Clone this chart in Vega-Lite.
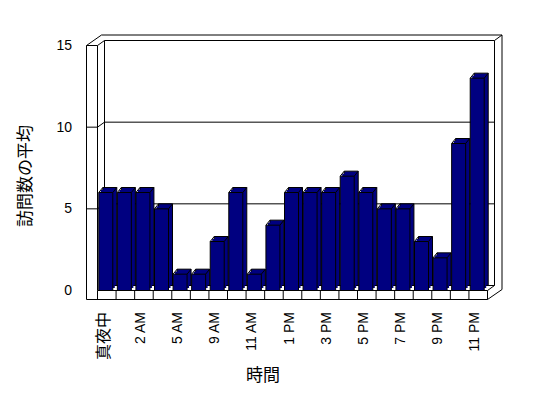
{
  "$schema": "https://vega.github.io/schema/vega-lite/v6.json",
  "width": 390,
  "height": 245,
  "autosize": {"type": "none"},
  "padding": {"left": 97.5, "top": 45.5, "right": 60.5, "bottom": 107.5},
  "background": "white",
  "config": {
    "view": {"stroke": null},
    "font": "Liberation Sans, Noto Sans CJK JP",
    "rule": {"color": "black", "strokeWidth": 1}
  },
  "datasets": {
    "visits": [
      {"hour": "真夜中", "visits": 6},
      {"hour": "1 AM", "visits": 6},
      {"hour": "2 AM", "visits": 6},
      {"hour": "3 AM", "visits": 5},
      {"hour": "5 AM", "visits": 1},
      {"hour": "7 AM", "visits": 1},
      {"hour": "9 AM", "visits": 3},
      {"hour": "10 AM", "visits": 6},
      {"hour": "11 AM", "visits": 1},
      {"hour": "正午", "visits": 4},
      {"hour": "1 PM", "visits": 6},
      {"hour": "2 PM", "visits": 6},
      {"hour": "3 PM", "visits": 6},
      {"hour": "4 PM", "visits": 7},
      {"hour": "5 PM", "visits": 6},
      {"hour": "6 PM", "visits": 5},
      {"hour": "7 PM", "visits": 5},
      {"hour": "8 PM", "visits": 3},
      {"hour": "9 PM", "visits": 2},
      {"hour": "10 PM", "visits": 9},
      {"hour": "11 PM", "visits": 13}
    ],
    "grid": [{"v": 0}, {"v": 5}, {"v": 10}, {"v": 15}],
    "ticks": [{"v": 5}, {"v": 10}],
    "one": [{"k": 1}]
  },
  "layer": [
    {
      "data": {"name": "grid"},
      "mark": {"type": "rule", "xOffset": 7, "x2Offset": 7, "yOffset": -5},
      "encoding": {
        "x": {"datum": "真夜中", "type": "nominal", "bandPosition": 0},
        "x2": {"datum": "11 PM", "bandPosition": 1},
        "y": {"field": "v", "type": "quantitative"}
      }
    },
    {
      "data": {"name": "one"},
      "mark": {"type": "rule", "xOffset": 7, "yOffset": -5, "y2Offset": -5},
      "encoding": {
        "x": {"datum": "真夜中", "type": "nominal", "bandPosition": 0},
        "y": {"datum": 15, "type": "quantitative"},
        "y2": {"datum": 0}
      }
    },
    {
      "data": {"name": "one"},
      "mark": {"type": "rule", "xOffset": 7, "yOffset": -5, "y2Offset": -5},
      "encoding": {
        "x": {"datum": "11 PM", "type": "nominal", "bandPosition": 1},
        "y": {"datum": 15, "type": "quantitative"},
        "y2": {"datum": 0}
      }
    },
    {
      "data": {"name": "one"},
      "mark": {"type": "rule", "xOffset": 4, "x2Offset": 14.5, "yOffset": -10.5},
      "encoding": {
        "x": {"datum": "真夜中", "type": "nominal", "bandPosition": 0},
        "x2": {"datum": "11 PM", "bandPosition": 1},
        "y": {"datum": 15, "type": "quantitative"}
      }
    },
    {
      "data": {"name": "one"},
      "mark": {"type": "rule", "xOffset": 14.5, "yOffset": -10.5, "y2Offset": -1},
      "encoding": {
        "x": {"datum": "11 PM", "type": "nominal", "bandPosition": 1},
        "y": {"datum": 15, "type": "quantitative"},
        "y2": {"datum": 0}
      }
    },
    {
      "data": {"name": "one"},
      "mark": {"type": "rule", "xOffset": 7, "x2Offset": 14.5, "yOffset": -5, "y2Offset": -10.5},
      "encoding": {
        "x": {"datum": "11 PM", "type": "nominal", "bandPosition": 1},
        "x2": {"datum": "11 PM", "bandPosition": 1},
        "y": {"datum": 15, "type": "quantitative"},
        "y2": {"datum": 15}
      }
    },
    {
      "data": {"name": "one"},
      "mark": {"type": "rule", "x2Offset": 14.5, "yOffset": 9, "y2Offset": -1},
      "encoding": {
        "x": {"datum": "11 PM", "type": "nominal", "bandPosition": 1},
        "x2": {"datum": "11 PM", "bandPosition": 1},
        "y": {"datum": 0, "type": "quantitative"},
        "y2": {"datum": 0}
      }
    },
    {
      "data": {"name": "one"},
      "mark": {"type": "rule", "x2Offset": 7, "y2Offset": -5},
      "encoding": {
        "x": {"datum": "11 PM", "type": "nominal", "bandPosition": 1},
        "x2": {"datum": "11 PM", "bandPosition": 1},
        "y": {"datum": 0, "type": "quantitative"},
        "y2": {"datum": 0}
      }
    },
    {
      "data": {"name": "one"},
      "mark": {"type": "rule", "xOffset": -11, "x2Offset": 4, "y2Offset": -10.5},
      "encoding": {
        "x": {"datum": "真夜中", "type": "nominal", "bandPosition": 0},
        "x2": {"datum": "真夜中", "bandPosition": 0},
        "y": {"datum": 15, "type": "quantitative"},
        "y2": {"datum": 15}
      }
    },
    {
      "data": {"name": "one"},
      "mark": {"type": "rule", "x2Offset": 7, "y2Offset": -5},
      "encoding": {
        "x": {"datum": "真夜中", "type": "nominal", "bandPosition": 0},
        "x2": {"datum": "真夜中", "bandPosition": 0},
        "y": {"datum": 15, "type": "quantitative"},
        "y2": {"datum": 15}
      }
    },
    {
      "data": {"name": "one"},
      "mark": {"type": "rule", "xOffset": -11, "y2Offset": 9},
      "encoding": {
        "x": {"datum": "真夜中", "type": "nominal", "bandPosition": 0},
        "y": {"datum": 15, "type": "quantitative"},
        "y2": {"datum": 0}
      }
    },
    {
      "data": {"name": "one"},
      "mark": {"type": "rule"},
      "encoding": {
        "x": {"datum": "真夜中", "type": "nominal", "bandPosition": 0},
        "y": {"datum": 15, "type": "quantitative"},
        "y2": {"datum": 0}
      }
    },
    {
      "data": {"name": "one"},
      "mark": {"type": "rule", "xOffset": -11},
      "encoding": {
        "x": {"datum": "真夜中", "type": "nominal", "bandPosition": 0},
        "x2": {"datum": "真夜中", "bandPosition": 0},
        "y": {"datum": 15, "type": "quantitative"}
      }
    },
    {
      "data": {"name": "ticks"},
      "mark": {"type": "rule", "xOffset": -11},
      "encoding": {
        "x": {"datum": "真夜中", "type": "nominal", "bandPosition": 0},
        "x2": {"datum": "真夜中", "bandPosition": 0},
        "y": {"field": "v", "type": "quantitative"}
      }
    },
    {
      "data": {"name": "ticks"},
      "mark": {"type": "rule", "x2Offset": 7, "y2Offset": -5},
      "encoding": {
        "x": {"datum": "真夜中", "type": "nominal", "bandPosition": 0},
        "x2": {"datum": "真夜中", "bandPosition": 0},
        "y": {"field": "v", "type": "quantitative"},
        "y2": {"field": "v"}
      }
    },
    {
      "data": {"name": "visits"},
      "mark": {"type": "bar", "width": 14, "xOffset": 3, "yOffset": -5, "y2Offset": -5, "color": "#000080", "stroke": "black", "strokeWidth": 1},
      "encoding": {
        "x": {"field": "hour", "type": "nominal"},
        "y": {"field": "visits", "type": "quantitative"}
      }
    },
    {
      "data": {"name": "visits"},
      "mark": {"type": "bar", "width": 14, "xOffset": 1, "yOffset": -2.5, "y2Offset": -2.5, "color": "#000080", "strokeWidth": 0},
      "encoding": {
        "x": {"field": "hour", "type": "nominal"},
        "y": {"field": "visits", "type": "quantitative"}
      }
    },
    {
      "data": {"name": "visits"},
      "mark": {"type": "rule", "xOffset": -8, "x2Offset": -4, "y2Offset": -5},
      "encoding": {
        "x": {"field": "hour", "type": "nominal"},
        "x2": {"field": "hour"},
        "y": {"field": "visits", "type": "quantitative"},
        "y2": {"field": "visits"}
      }
    },
    {
      "data": {"name": "visits"},
      "mark": {"type": "rule", "xOffset": 6, "x2Offset": 10, "y2Offset": -5},
      "encoding": {
        "x": {"field": "hour", "type": "nominal"},
        "x2": {"field": "hour"},
        "y": {"field": "visits", "type": "quantitative"},
        "y2": {"field": "visits"}
      }
    },
    {
      "data": {"name": "visits"},
      "mark": {"type": "bar", "width": 14, "xOffset": -1, "color": "#000080", "stroke": "black", "strokeWidth": 1},
      "encoding": {
        "x": {
          "field": "hour",
          "type": "nominal",
          "scale": {
            "domain": ["真夜中", "1 AM", "2 AM", "3 AM", "5 AM", "7 AM", "9 AM", "10 AM", "11 AM", "正午", "1 PM", "2 PM", "3 PM", "4 PM", "5 PM", "6 PM", "7 PM", "8 PM", "9 PM", "10 PM", "11 PM"],
            "paddingInner": 0,
            "paddingOuter": 0
          },
          "axis": {
            "labelExpr": "indexof(['真夜中', '2 AM', '5 AM', '9 AM', '11 AM', '1 PM', '3 PM', '5 PM', '7 PM', '9 PM', '11 PM'], datum.value) >= 0 ? datum.value : ''",
            "labelAngle": 270,
            "labelPadding": 21,
            "labelOffset": -3,
            "labelBound": false,
            "ticks": false,
            "domain": false,
            "grid": false,
            "labelOverlap": false,
            "labelColor": "black",
            "labelFontSize": {"condition": {"test": "datum.value == '真夜中'", "value": 16}, "value": 14},
            "title": "時間",
            "titleFontSize": 17,
            "titleFontWeight": "normal",
            "titleColor": "black",
            "titleX": 165,
            "titleY": 85,
            "titleBaseline": "middle"
          }
        },
        "y": {
          "field": "visits",
          "type": "quantitative",
          "scale": {"domain": [0, 15], "nice": false},
          "axis": {
            "values": [0, 5, 10, 15],
            "ticks": false,
            "domain": false,
            "grid": false,
            "labelPadding": 26,
            "labelFontSize": 14,
            "labelColor": "black",
            "title": "訪問数の平均",
            "titleFontSize": 17,
            "titleFontWeight": "normal",
            "titleColor": "black",
            "titleAngle": 270,
            "titleX": -72,
            "titleY": 130,
            "titleAlign": "center",
            "titleBaseline": "middle"
          }
        }
      }
    },
    {
      "data": {"name": "one"},
      "mark": {"type": "rule"},
      "encoding": {
        "x": {"datum": "真夜中", "type": "nominal", "bandPosition": 0},
        "x2": {"datum": "11 PM", "bandPosition": 1},
        "y": {"datum": 0, "type": "quantitative"}
      }
    },
    {
      "data": {"name": "one"},
      "mark": {"type": "rule", "xOffset": -11, "yOffset": 9},
      "encoding": {
        "x": {"datum": "真夜中", "type": "nominal", "bandPosition": 0},
        "x2": {"datum": "11 PM", "bandPosition": 1},
        "y": {"datum": 0, "type": "quantitative"}
      }
    },
    {
      "data": {"name": "visits"},
      "mark": {"type": "rule", "y2Offset": 9},
      "encoding": {
        "x": {"field": "hour", "type": "nominal", "bandPosition": 0},
        "y": {"datum": 0, "type": "quantitative"},
        "y2": {"datum": 0}
      }
    },
    {
      "data": {"name": "one"},
      "mark": {"type": "rule", "y2Offset": 9},
      "encoding": {
        "x": {"datum": "11 PM", "type": "nominal", "bandPosition": 1},
        "y": {"datum": 0, "type": "quantitative"},
        "y2": {"datum": 0}
      }
    }
  ]
}
